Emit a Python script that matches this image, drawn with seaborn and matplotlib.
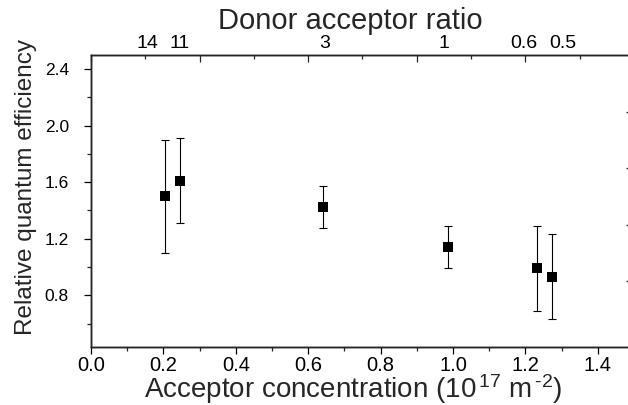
import numpy as np
import pandas as pd
import matplotlib
matplotlib.use('Agg')
import matplotlib.pyplot as plt
import seaborn as sns
from matplotlib.ticker import MultipleLocator

# data
acceptor_conc = [0.205, 0.245, 0.64, 0.985, 1.232, 1.273]
rel_qe = [1.50, 1.61, 1.425, 1.14, 0.99, 0.93]
qe_err = [0.40, 0.30, 0.15, 0.15, 0.30, 0.30]

ratio_labels = ['14', '11', '3', '1', '0.6', '0.5']
ratio_pos = [0.155, 0.246, 0.646, 0.975, 1.196, 1.304]

y_ticks = [0.8, 1.2, 1.6, 2.0, 2.4]
right_ticks = [0.9, 1.3, 1.7, 2.1]

df = pd.DataFrame({'conc': acceptor_conc, 'qe': rel_qe, 'err': qe_err})

sns.set_theme(style='ticks')
plt.rcParams['font.family'] = ['Liberation Sans', 'DejaVu Sans']
plt.rcParams['mathtext.fontset'] = 'custom'
plt.rcParams['mathtext.rm'] = 'Liberation Sans'
plt.rcParams['mathtext.it'] = 'Liberation Sans:italic'
plt.rcParams['axes.linewidth'] = 0.9

fig = plt.figure(figsize=(6.28, 4.05), dpi=100)
ax = fig.add_axes([91 / 628, 1 - 347 / 405, 543 / 628, 292 / 405])

ax.errorbar(df['conc'], df['qe'], yerr=df['err'], fmt='none', ecolor='black',
            elinewidth=0.8, capsize=3, capthick=0.8, zorder=2)
sns.scatterplot(data=df, x='conc', y='qe', marker='s', s=42, color='black',
                edgecolor='black', linewidth=0, ax=ax, zorder=3)

ax.set_xlim(0, 1.5)
ax.set_ylim(0.434, 2.5)
ax.xaxis.set_major_locator(MultipleLocator(0.2))
ax.xaxis.set_minor_locator(MultipleLocator(0.1))
ax.set_yticks(y_ticks)
ax.yaxis.set_minor_locator(MultipleLocator(0.2))
ax.set_xticklabels([f'{v:.1f}' for v in ax.get_xticks()])
ax.set_yticklabels([f'{v:.1f}' for v in y_ticks])
ax.tick_params(axis='x', which='major', direction='out', length=5, width=0.9,
               labelsize=14.5, pad=1.5, colors='black')
ax.tick_params(axis='x', which='minor', direction='out', length=3, width=0.9)
ax.tick_params(axis='y', which='major', direction='out', length=5, width=0.9,
               labelsize=12.5, pad=11, colors='black')
ax.tick_params(axis='y', which='minor', direction='out', length=3, width=0.9)
for s in ax.spines.values():
    s.set_color('black')

ax.set_xlabel(r'Acceptor concentration (10$^{\,17}$ m$^{\,\text{-2}}$)', fontsize=20)
ax.xaxis.set_label_coords(0.483, -0.086)
ax.set_ylabel('Relative quantum efficiency', fontsize=17.5)
ax.yaxis.set_label_coords(-0.099, 0.548)

# top axis: tick marks
ax_marks = ax.twiny()
ax_marks.set_xlim(ax.get_xlim())
ax_marks.xaxis.set_major_locator(MultipleLocator(0.3))
ax_marks.xaxis.set_minor_locator(MultipleLocator(0.15))
ax_marks.tick_params(axis='x', which='major', direction='in', length=5, width=0.9,
                     labeltop=False)
ax_marks.tick_params(axis='x', which='minor', direction='in', length=3, width=0.9)

# top axis: donor acceptor ratio labels
ax_top = ax.twiny()
ax_top.set_xlim(ax.get_xlim())
ax_top.set_xticks(ratio_pos)
ax_top.set_xticklabels(ratio_labels)
ax_top.tick_params(axis='x', which='major', length=0, labelsize=14, pad=2,
                   colors='black')
ax_top.set_xlabel('Donor acceptor ratio', fontsize=21)
ax_top.xaxis.set_label_coords(0.477, 1.09)

# right axis ticks
ax_r = ax.twinx()
ax_r.set_ylim(ax.get_ylim())
ax_r.set_yticks(right_ticks)
ax_r.tick_params(axis='y', direction='in', length=6, width=0.9, labelright=False)

fig.savefig('out.png', dpi=100)
